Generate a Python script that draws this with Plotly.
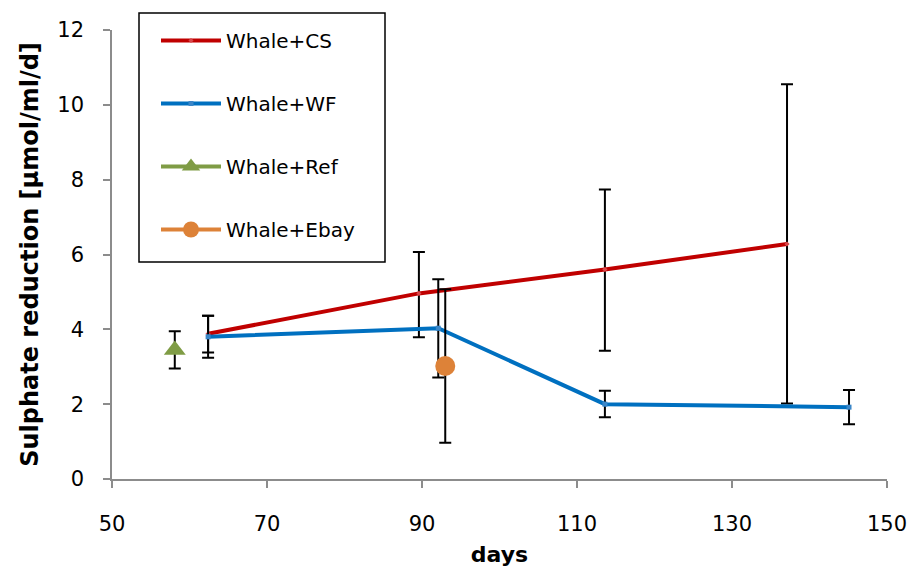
import plotly.graph_objects as go

# Sulphate reduction rates over time, mean ± error per treatment
cs_days = [62.4, 89.6, 113.6, 137.1]
cs_rate = [3.88, 4.96, 5.60, 6.28]
cs_err_plus = [0.48, 1.11, 2.14, 4.27]
cs_err_minus = [0.50, 1.17, 2.17, 4.26]

wf_days = [62.4, 92.1, 113.6, 145.1]
wf_rate = [3.80, 4.03, 2.00, 1.92]
wf_err_plus = [0.56, 1.31, 0.36, 0.46]
wf_err_minus = [0.56, 1.32, 0.35, 0.46]

ref_days = [58.1]
ref_rate = [3.45]
ref_err = [0.50]

ebay_days = [93.0]
ebay_rate = [3.02]
ebay_err = [2.05]

x_ticks = [50, 70, 90, 110, 130, 150]
y_ticks = [0, 2, 4, 6, 8, 10, 12]

FONT = "DejaVu Sans"


def err(plus, minus=None):
    d = dict(type="data", array=plus, visible=True, color="black",
             thickness=2, width=6)
    if minus is not None:
        d["symmetric"] = False
        d["arrayminus"] = minus
    return d


fig = go.Figure()
fig.add_trace(go.Scatter(
    x=cs_days, y=cs_rate, name="Whale+CS", mode="lines+markers",
    legendgroup="cs",
    line=dict(color="#C00000", width=4),
    marker=dict(symbol="diamond", size=4, color="#D8474A"),
    error_y=err(cs_err_plus, cs_err_minus)))
fig.add_trace(go.Scatter(
    x=wf_days, y=wf_rate, name="Whale+WF", mode="lines+markers",
    legendgroup="wf",
    line=dict(color="#0070C0", width=4),
    marker=dict(symbol="square", size=5, color="#3A86C8"),
    error_y=err(wf_err_plus, wf_err_minus)))
fig.add_trace(go.Scatter(
    x=ref_days, y=ref_rate, name="Whale+Ref", mode="lines+markers",
    legendgroup="ref",
    line=dict(color="#7F9C45", width=4),
    marker=dict(symbol="triangle-up", size=19, color="#7F9C45"),
    error_y=err(ref_err)))
fig.add_trace(go.Scatter(
    x=ebay_days, y=ebay_rate, name="Whale+Ebay", mode="lines+markers",
    legendgroup="ebay",
    line=dict(color="#DD8238", width=4),
    marker=dict(symbol="circle", size=20, color="#DD8238"),
    error_y=err(ebay_err)))

axis_common = dict(
    showgrid=False, zeroline=False, showline=True, linecolor="#8C8C8C",
    linewidth=1.5, ticks="outside", ticklen=7, tickcolor="#8C8C8C",
    tickwidth=1.5, tickfont=dict(family=FONT, size=21, color="black"),
)

fig.update_xaxes(range=[50, 150], tickvals=x_ticks, ticklabelstandoff=18,
                 title=dict(text="<b>days</b>", standoff=12,
                            font=dict(family=FONT, size=22, color="black")),
                 **axis_common)
fig.update_yaxes(range=[0, 12], tickvals=y_ticks, ticklabelstandoff=15,
                 title=dict(text="<b>Sulphate reduction [µmol/ml/d]</b>",
                            standoff=12,
                            font=dict(family=FONT, size=24, color="black")),
                 **axis_common)

# legend frame
fig.add_shape(type="rect", xref="paper", yref="paper",
              x0=(139 - 112) / 775, x1=(385 - 112) / 775,
              y0=(479 - 262) / 449, y1=(479 - 13) / 449,
              line=dict(color="black", width=1.5), fillcolor="white",
              layer="above")

fig.update_layout(
    width=911, height=572,
    margin=dict(l=112, r=24, t=30, b=93, autoexpand=False),
    plot_bgcolor="white", paper_bgcolor="white",
    showlegend=True,
    legend=dict(
        x=(156 - 112) / 775, y=(479 - 21) / 449,
        xanchor="left", yanchor="top",
        bgcolor="rgba(0,0,0,0)", borderwidth=0,
        font=dict(family=FONT, size=20, color="black"),
        tracegroupgap=34, itemwidth=60,
    ),
)

fig.write_html("out.html")
